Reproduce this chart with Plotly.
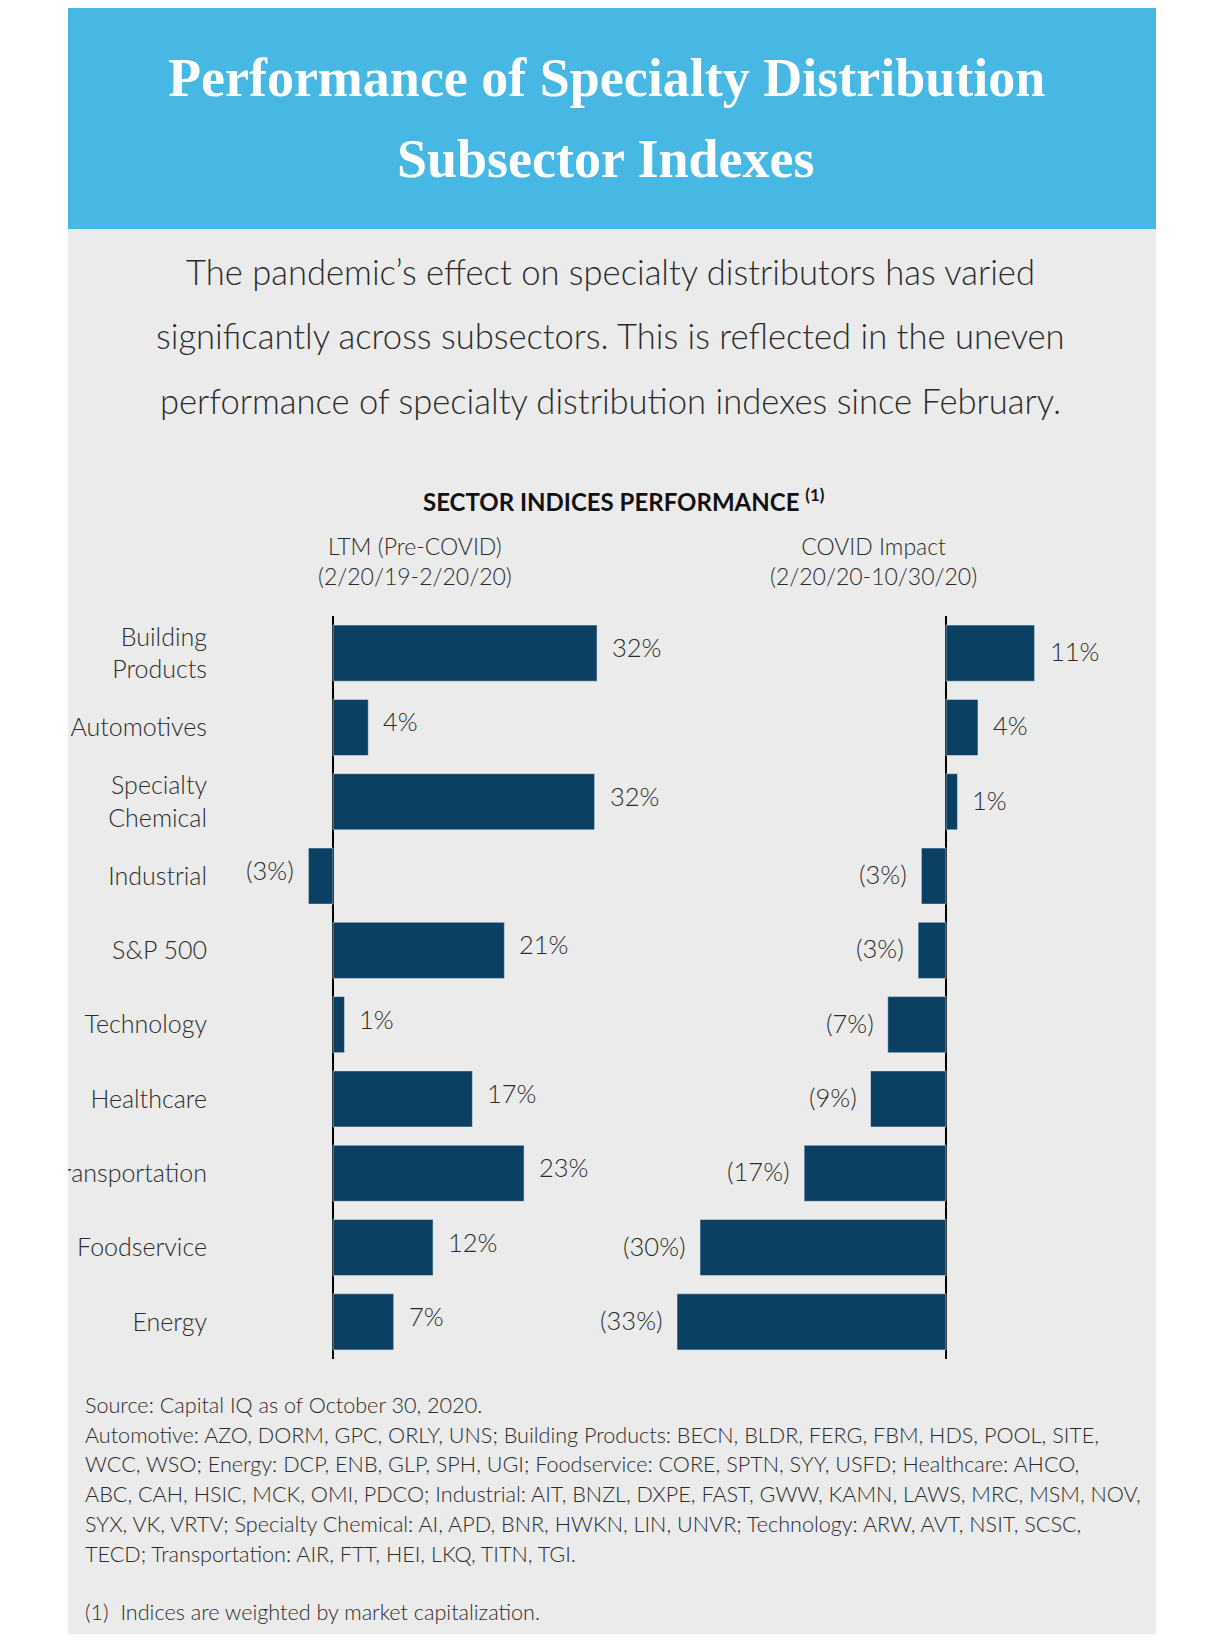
import plotly.graph_objects as go

# page body adds an 8px margin, so the figure is a bit smaller and offset
OFF = 8
W, H = 1204, 1626

TITLE_LINES = ["Performance of Specialty Distribution", "Subsector Indexes"]
SUBTITLE_LINES = [
    "The pandemic\u2019s effect on specialty distributors has varied",
    "significantly across subsectors. This is reflected in the uneven",
    "performance of specialty distribution indexes since February.",
]
CHART_TITLE = "SECTOR INDICES PERFORMANCE <sup>(1)</sup>"
PANEL_TITLES = ["LTM (Pre-COVID)<br>(2/20/19-2/20/20)", "COVID Impact<br>(2/20/20-10/30/20)"]

categories = [
    "Building<br>Products", "Automotives", "Specialty<br>Chemical", "Industrial",
    "S&P 500", "Technology", "Healthcare", "Transportation", "Foodservice", "Energy",
]
ltm_pct = [32.2, 4.3, 31.9, -3.0, 20.9, 1.4, 17.0, 23.3, 12.2, 7.4]
covid_pct = [10.8, 3.9, 1.4, -3.0, -3.4, -7.1, -9.2, -17.3, -30.0, -32.8]

FOOTER_LINES = [
    "Source: Capital IQ as of October 30, 2020.",
    "Automotive: AZO, DORM, GPC, ORLY, UNS; Building Products: BECN, BLDR, FERG, FBM, HDS, POOL, SITE,",
    "WCC, WSO; Energy: DCP, ENB, GLP, SPH, UGI; Foodservice: CORE, SPTN, SYY, USFD; Healthcare: AHCO,",
    "ABC, CAH, HSIC, MCK, OMI, PDCO; Industrial: AIT, BNZL, DXPE, FAST, GWW, KAMN, LAWS, MRC, MSM, NOV,",
    "SYX, VK, VRTV; Specialty Chemical: AI, APD, BNR, HWKN, LIN, UNVR; Technology: ARW, AVT, NSIT, SCSC,",
    "TECD; Transportation: AIR, FTT, HEI, LKQ, TITN, TGI.",
]
FOOTNOTE = "(1)  Indices are weighted by market capitalization."

BLUE = "#46B8E3"
PANEL = "#EBEBEB"
BAR = "#0B4063"
TXT = "#2b2b2b"
LIGHT = dict(family="Lato, Open Sans, sans-serif", color=TXT, size=25, weight=300)


def px(x):
    return (x - OFF) / W


def py(y):
    return 1 - (y - OFF) / H


def pct_label(v):
    return f"{round(v)}%" if v >= 0 else f"({abs(round(v))}%)"


def note(x, y, text, font, xanchor="center"):
    return dict(x=px(x), y=py(y), xref="paper", yref="paper", text=text,
                showarrow=False, font=font, xanchor=xanchor, yanchor="middle")


fig = go.Figure()
fig.add_trace(go.Bar(x=ltm_pct, y=categories, orientation="h", marker_color=BAR,
                     xaxis="x", yaxis="y", hoverinfo="skip"))
fig.add_trace(go.Bar(x=covid_pct, y=categories, orientation="h", marker_color=BAR,
                     xaxis="x2", yaxis="y", hoverinfo="skip"))

ann = []
for i, t in enumerate(TITLE_LINES):
    ann.append(note(606, 78 + 81 * i, t,
                    dict(family="Liberation Serif, serif", size=54, color="white", weight="bold")))
for i, t in enumerate(SUBTITLE_LINES):
    ann.append(note(610, 271 + 64.5 * i, t, dict(LIGHT, size=34.6)))
ann.append(note(623, 500, CHART_TITLE,
                dict(family="Lato, sans-serif", size=24, color="#111", weight="bold")))
for xc, t in zip([415, 873], PANEL_TITLES):
    ann.append(note(xc, 561, t, dict(LIGHT, size=23)))

for xr, vals, dy in (("x", ltm_pct, 6), ("x2", covid_pct, 2)):
    for c, v in zip(categories, vals):
        ann.append(dict(x=v, y=c, xref=xr, yref="y", text=pct_label(v), showarrow=False,
                        xanchor="left" if v >= 0 else "right", yanchor="middle",
                        xshift=13 if v >= 0 else -12, yshift=dy, font=dict(LIGHT, size=25.5)))

for i, t in enumerate(FOOTER_LINES):
    ann.append(note(83, 1405 + 29.7 * i, t, dict(LIGHT, size=21.6), xanchor="left"))
ann.append(note(83, 1612, FOOTNOTE, dict(LIGHT, size=21.6), xanchor="left"))

shapes = [
    dict(type="rect", xref="paper", yref="paper", x0=px(68), x1=px(1156), y0=py(1639), y1=py(2),
         fillcolor=PANEL, line_width=0, layer="below"),
    dict(type="rect", xref="paper", yref="paper", x0=px(68), x1=px(1156), y0=py(229), y1=py(2),
         fillcolor=BLUE, line_width=0, layer="below"),
    # white strip left of the panel clips the long category label
    dict(type="rect", xref="paper", yref="paper", x0=0, x1=px(68), y0=0, y1=1,
         fillcolor="white", line_width=0, layer="above"),
]

axis_common = dict(showgrid=False, showticklabels=False, zeroline=True, zerolinecolor="black",
                   zerolinewidth=2, showline=False, fixedrange=True)

fig.update_layout(
    width=W, height=H, autosize=False,
    margin=dict(l=0, r=0, t=0, b=0),
    paper_bgcolor="white", plot_bgcolor="rgba(0,0,0,0)",
    showlegend=False, bargap=0.245,
    xaxis=dict(axis_common, range=[-5, 35], domain=[px(292), px(620)], anchor="y"),
    xaxis2=dict(axis_common, range=[-36, 14], domain=[px(650.8), px(1060.8)], anchor="y"),
    yaxis=dict(type="category", range=[9.5, -0.5], domain=[py(1359), py(616)], anchor="x",
               showgrid=False, zeroline=False, ticks="outside", ticklen=79,
               tickcolor="rgba(0,0,0,0)", tickfont=dict(LIGHT, size=25), fixedrange=True),
    annotations=ann,
    shapes=shapes,
)

fig.write_html("out.html")
